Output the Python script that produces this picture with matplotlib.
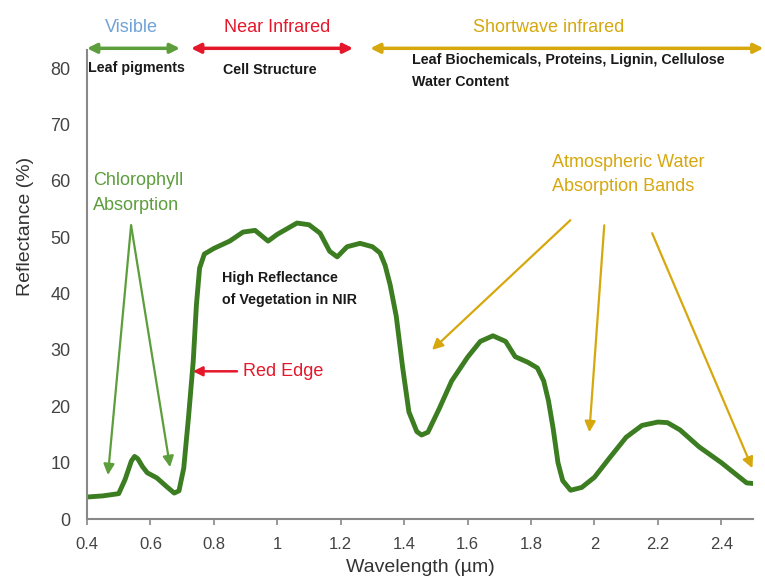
import numpy as np
import matplotlib
matplotlib.use("Agg")
import matplotlib.pyplot as plt

plt.rcParams['font.family'] = ['Liberation Sans', 'DejaVu Sans']

# spectral reflectance curve of green vegetation
wavelength = [0.40, 0.45, 0.50, 0.52, 0.54, 0.55, 0.56, 0.575, 0.59, 0.62, 0.65, 0.675,
              0.69, 0.705, 0.72, 0.735, 0.745, 0.755, 0.77, 0.80, 0.85, 0.892, 0.93,
              0.971, 1.00, 1.062, 1.10, 1.135, 1.165, 1.189, 1.22, 1.261, 1.30, 1.324,
              1.34, 1.356, 1.375, 1.395, 1.415, 1.44, 1.455, 1.475, 1.51, 1.55, 1.60,
              1.64, 1.68, 1.72, 1.75, 1.79, 1.82, 1.84, 1.855, 1.87, 1.885, 1.90, 1.925,
              1.96, 2.00, 2.05, 2.10, 2.15, 2.20, 2.23, 2.27, 2.33, 2.40, 2.46, 2.48, 2.50]
reflectance = [3.9, 4.1, 4.5, 7.0, 10.3, 11.1, 10.7, 9.3, 8.2, 7.3, 5.8, 4.6,
               5.0, 9.0, 18.0, 28.0, 38.0, 44.5, 47.0, 48.0, 49.3, 50.9, 51.2,
               49.3, 50.5, 52.5, 52.2, 50.7, 47.5, 46.5, 48.3, 48.9, 48.3, 47.2,
               45.0, 41.5, 36.0, 27.0, 19.0, 15.5, 14.9, 15.4, 19.5, 24.5, 28.7,
               31.5, 32.5, 31.5, 28.8, 27.8, 26.8, 24.5, 21.0, 16.0, 10.0, 6.8, 5.1,
               5.6, 7.4, 11.0, 14.5, 16.6, 17.2, 17.1, 15.8, 12.8, 10.0, 7.3, 6.4, 6.3]

xticks = [0.4, 0.6, 0.8, 1.0, 1.2, 1.4, 1.6, 1.8, 2.0, 2.2, 2.4]
xtick_labels = ['0.4', '0.6', '0.8', '1', '1.2', '1.4', '1.6', '1.8', '2', '2.2', '2.4']
yticks = [0, 10, 20, 30, 40, 50, 60, 70, 80]

# spectral regions: name, start, end
region_names = ['Visible', 'Near Infrared', 'Shortwave infrared']
region_start = [0.40, 0.728, 1.293]
region_end = [0.693, 1.239, 2.533]

curve_col = '#3c7d22'
green = '#5c9e3c'
blue = '#6fa3d6'
red = '#e5172b'
gold = '#d6a80e'
region_text_cols = [blue, red, gold]
region_arrow_cols = [green, red, gold]

fig = plt.figure(figsize=(7.65, 5.84), dpi=100)
ax = fig.add_axes([87/765, 1-519/584, (753-87)/765, (519-50)/584])

ax.plot(wavelength, reflectance, color=curve_col, lw=3.5,
        solid_capstyle='round', solid_joinstyle='round')

ax.set_xlim(0.4, 2.5)
ax.set_ylim(0, 83.2)
ax.set_xticks(xticks)
ax.set_xticklabels(xtick_labels)
ax.set_yticks(yticks)
ax.tick_params(axis='x', length=4, width=1.2, color='#888888', labelsize=12,
               labelcolor='#444444', pad=9)
ax.tick_params(axis='y', length=0, labelsize=13, labelcolor='#444444', pad=12)
for s in ['top', 'right']:
    ax.spines[s].set_visible(False)
for s in ['left', 'bottom']:
    ax.spines[s].set_color('#888888')
    ax.spines[s].set_linewidth(1.5)

ax.set_xlabel('Wavelength (µm)', fontsize=14, color='#333333', labelpad=5)
fig.text(0.033, 1-226/584, 'Reflectance (%)', rotation=90, fontsize=14,
         color='#333333', ha='center', va='center')

# region arrows across the top
for name, x0, x1, tc, ac in zip(region_names, region_start, region_end,
                                region_text_cols, region_arrow_cols):
    ax.annotate('', xy=(x0, 83.5), xytext=(x1, 83.5), annotation_clip=False,
                arrowprops=dict(arrowstyle='<|-|>', color=ac, lw=2.5,
                                mutation_scale=14, shrinkA=0, shrinkB=0))
ax.text(0.539, 87.2, 'Visible', color=blue, fontsize=13, ha='center', va='center')
ax.text(0.999, 87.2, 'Near Infrared', color=red, fontsize=13, ha='center',
        va='center')
ax.text(1.854, 87.2, 'Shortwave infrared', color=gold, fontsize=13, ha='center',
        va='center')

txt = dict(color='#1a1a1a', fontsize=10.3, fontweight='bold', va='center')
ax.text(0.403, 80.0, 'Leaf pigments', ha='left', **txt)
ax.text(0.829, 79.6, 'Cell Structure', ha='left', **txt)
ax.text(1.425, 81.4, 'Leaf Biochemicals, Proteins, Lignin, Cellulose', ha='left', **txt)
ax.text(1.425, 77.5, 'Water Content', ha='left', **txt)
ax.text(0.826, 42.7, 'High Reflectance', ha='left', **txt)
ax.text(0.826, 38.8, 'of Vegetation in NIR', ha='left', **txt)

# chlorophyll absorption
ax.text(0.419, 60.1, 'Chlorophyll', color=green, fontsize=13, va='center')
ax.text(0.419, 55.7, 'Absorption', color=green, fontsize=13, va='center')
for tip in [(0.466, 7.8), (0.662, 9.2)]:
    ax.annotate('', xy=tip, xytext=(0.539, 52.1),
                arrowprops=dict(arrowstyle='-|>', color=green, lw=1.6,
                                mutation_scale=16, shrinkA=0, shrinkB=0))

# red edge
ax.annotate('', xy=(0.734, 26.2), xytext=(0.873, 26.2),
            arrowprops=dict(arrowstyle='-|>', color=red, lw=1.8,
                            mutation_scale=14, shrinkA=0, shrinkB=0))
ax.text(0.892, 26.2, 'Red Edge', color=red, fontsize=13, va='center')

# atmospheric water absorption bands
ax.text(1.867, 63.3, 'Atmospheric Water', color=gold, fontsize=13, va='center')
ax.text(1.867, 58.9, 'Absorption Bands', color=gold, fontsize=13, va='center')
band_tail = [(1.924, 53.0), (2.031, 52.1), (2.182, 50.7)]
band_tip = [(1.488, 30.0), (1.984, 15.4), (2.498, 9.0)]
for tail, tip in zip(band_tail, band_tip):
    ax.annotate('', xy=tip, xytext=tail, annotation_clip=False,
                arrowprops=dict(arrowstyle='-|>', color=gold, lw=1.6,
                                mutation_scale=16, shrinkA=0, shrinkB=0))

fig.savefig('out.png', dpi=100)
